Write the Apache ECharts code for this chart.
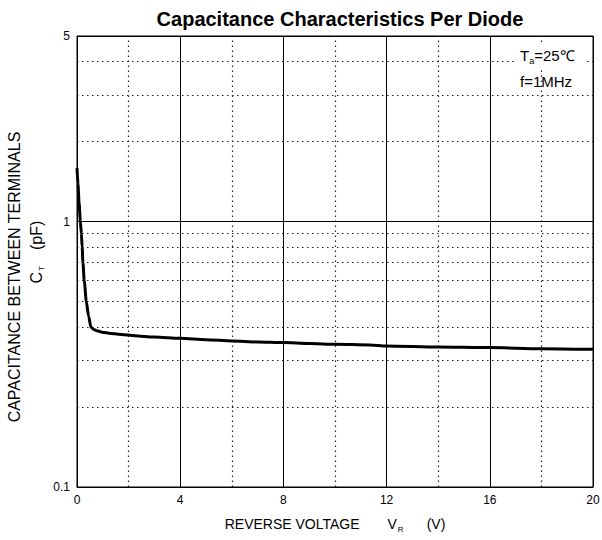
<!DOCTYPE html>
<html>
<head>
<meta charset="utf-8">
<script src="https://cdn.jsdelivr.net/npm/echarts@6.0.0/dist/echarts.min.js"></script>
<style>
html,body{margin:0;padding:0;background:#fff;}
#chart{width:602px;height:540px;}
</style>
</head>
<body>
<div id="chart"></div>
<script>
// Reverse voltage V_R (V)
const voltage = [0, 0.04, 0.08, 0.13, 0.17, 0.2, 0.23, 0.28, 0.36, 0.45, 0.54, 0.65, 0.77, 0.97, 1.3, 1.6, 2.05, 2.45, 3, 4, 5, 6, 7, 8, 9, 10, 11.35, 12, 14, 16, 18, 20];
// Capacitance between terminals C_T (pF)
const capacitance = [1.59, 1.38, 1.18, 1.0, 0.9, 0.8, 0.7, 0.6, 0.5, 0.44, 0.40, 0.392, 0.388, 0.383, 0.379, 0.376, 0.373, 0.370, 0.367, 0.363, 0.359, 0.355, 0.352, 0.350, 0.347, 0.345, 0.343, 0.340, 0.337, 0.335, 0.332, 0.330];
// Dotted grid positions
const xMinorGrid = [2, 6, 10, 14, 18];
const yMinorGrid = [0.2, 0.3, 0.4, 0.5, 0.6, 0.7, 0.8, 0.9, 2, 3, 4];
// Y tick labels shown
const yTickLabels = ['0.1', '1', '5'];

const chart = echarts.init(document.getElementById('chart'), null, {renderer: 'svg'});
const FONT = "'Liberation Sans', Arial, sans-serif";
const dotted = {color: '#222', width: 1.2, type: [1.5, 3.5]};

const option = {
  backgroundColor: '#fff',
  animation: false,
  title: {
    text: 'Capacitance Characteristics Per Diode',
    left: 335, top: 4, textAlign: 'center',
    textStyle: {fontFamily: FONT, fontSize: 20, fontWeight: 'bold', color: '#000'}
  },
  grid: {left: 77, right: 9, top: 36, bottom: 53, containLabel: false, outerBoundsMode: 'none',
         show: true, borderColor: '#000', borderWidth: 1, backgroundColor: 'transparent'},
  xAxis: {
    type: 'value', min: 0, max: 20, interval: 4,
    axisLine: {show: true, lineStyle: {color: '#000', width: 1}},
    axisTick: {show: false},
    axisLabel: {color: '#000', fontFamily: FONT, fontSize: 12, margin: 7},
    splitLine: {show: true, lineStyle: {color: '#000', width: 1}},
    name: '{a|REVERSE VOLTAGE}{v|V}{s|R}{p|(V)}',
    nameLocation: 'middle', nameGap: 28,
    nameTextStyle: {
      rich: {
        a: {fontFamily: FONT, fontSize: 14, color: '#000'},
        v: {fontFamily: FONT, fontSize: 14, color: '#000', padding: [0, 0, 0, 28]},
        s: {fontFamily: FONT, fontSize: 8, color: '#000', padding: [10, 0, 0, 1]},
        p: {fontFamily: FONT, fontSize: 14, color: '#000', padding: [0, 0, 0, 23]}
      }
    }
  },
  yAxis: {
    type: 'log', logBase: 10, min: 0.1, max: 5,
    axisLine: {show: true, lineStyle: {color: '#000', width: 1}},
    axisTick: {show: false},
    axisLabel: {
      color: '#000', fontFamily: FONT, fontSize: 12, margin: 7,
      showMinLabel: true, showMaxLabel: true,
      formatter: function (v) {
        const r = Math.round(v * 100) / 100;
        const s = String(r);
        return yTickLabels.indexOf(s) >= 0 ? s : '';
      }
    },
    splitLine: {show: true, lineStyle: {color: '#000', width: 1}},
    minorTick: {show: false},
    minorSplitLine: {show: false}
  },
  graphic: [
    {
      type: 'text', x: 14, y: 277, rotation: Math.PI / 2, z: 100,
      style: {
        text: 'CAPACITANCE BETWEEN TERMINALS',
        font: '16px ' + FONT, fill: '#000', align: 'center', verticalAlign: 'middle'
      }
    },
    {
      type: 'text', x: 36, y: 252, rotation: Math.PI / 2, z: 100,
      style: {
        text: '{c|C}{s|T}{p|(pF)}',
        align: 'center', verticalAlign: 'middle',
        rich: {
          c: {fontFamily: FONT, fontSize: 16, fill: '#000'},
          s: {fontFamily: FONT, fontSize: 8, fill: '#000', padding: [10, 0, 0, 1]},
          p: {fontFamily: FONT, fontSize: 16, fill: '#000', padding: [0, 0, 0, 16]}
        }
      }
    },
    {
      type: 'text', left: 515, top: 44, z: 100,
      style: {
        rich: {
          t: {fontFamily: FONT, fontSize: 15, fill: '#000'},
          s: {fontFamily: FONT, fontSize: 9, fill: '#000', padding: [10, 0, 0, 0]}
        },
        text: '{t|T}{s|a}{t|=25℃}',
        backgroundColor: '#fff', padding: [2, 10, 2, 5]
      }
    },
    {
      type: 'text', left: 520, top: 74, z: 100,
      style: {font: '15px ' + FONT, fill: '#000', text: 'f=1MHz'}
    }
  ],
  series: [
    {
      type: 'line', data: [], silent: true, z: 1,
      markLine: {
        silent: true, symbol: ['none', 'none'], animation: false,
        label: {show: false},
        lineStyle: dotted,
        data: xMinorGrid.map(v => ({xAxis: v})).concat(yMinorGrid.map(v => ({yAxis: v})))
      }
    },
    {
      type: 'line', z: 5,
      data: voltage.map((v, i) => [v, capacitance[i]]),
      showSymbol: false, smooth: 0.25, smoothMonotone: 'x',
      lineStyle: {color: '#000', width: 3},
      itemStyle: {color: '#000'}
    }
  ]
};
chart.setOption(option);
</script>
</body>
</html>
